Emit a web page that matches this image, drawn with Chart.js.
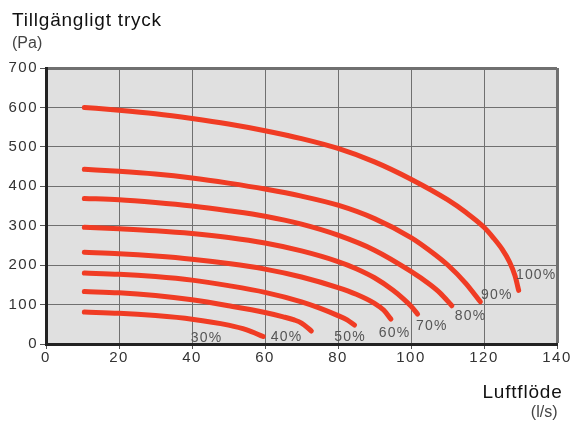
<!DOCTYPE html>
<html>
<head>
<meta charset="utf-8">
<script src="https://cdn.jsdelivr.net/npm/chart.js@4.4.1/dist/chart.umd.min.js"></script>
<style>
  html, body { margin: 0; padding: 0; background: #fff; }
  #wrap { position: relative; width: 572px; height: 421px; }
  canvas { display: block; }
  svg { position: absolute; left: 0; top: 0; pointer-events: none; }
  svg text { font-family: "Liberation Sans", Arial, sans-serif; }
</style>
</head>
<body>
<div id="wrap">
  <canvas id="c" width="572" height="421"></canvas>
  <svg width="572" height="421">
    <text x="12" y="25.7" font-size="19" letter-spacing="0.8" fill="#111">Tillgängligt tryck</text>
    <text x="12" y="48.3" font-size="16" fill="#444">(Pa)</text>
    <text x="562.5" y="397.7" font-size="19" letter-spacing="0.8" fill="#111" text-anchor="end">Luftflöde</text>
    <text x="557.5" y="416.6" font-size="16" fill="#444" text-anchor="end">(l/s)</text>
  </svg>
</div>
<script>
// Tick values
const xTicks = [0, 20, 40, 60, 80, 100, 120, 140];
const yTicks = [0, 100, 200, 300, 400, 500, 600, 700];

// Fan speed curves: airflow (l/s) and available pressure (Pa)
const flow100 = [10.5, 20, 30, 40, 50, 60, 70, 80, 90, 100, 110, 115, 120, 122.5, 125, 127, 128.5, 129.5];
const pres100 = [600, 593, 584, 572, 558, 541, 521, 496, 462, 418, 366, 334, 296, 270, 240, 208, 173, 136];

const flow90 = [10.5, 20, 30, 40, 50, 60, 70, 80, 90, 100, 105, 110, 115, 119];
const pres90 = [443, 438, 431, 421, 408, 393, 375, 352, 318, 270, 238, 201, 154, 107];

const flow80 = [10.5, 20, 30, 40, 50, 60, 70, 80, 90, 100, 105, 108, 111.2];
const pres80 = [369, 366, 359, 350, 338, 324, 304, 276, 238, 184, 152, 129, 97];

const flow70 = [10.5, 20, 30, 40, 50, 60, 70, 80, 85, 90, 95, 98, 100, 101.8];
const pres70 = [296, 292, 287, 280, 270, 256, 236, 209, 191, 168, 137, 114, 96, 76];

const flow60 = [10.5, 20, 30, 40, 50, 60, 70, 80, 85, 90, 92.5, 94.5];
const pres60 = [233, 229, 223, 215, 204, 190, 170, 143, 126, 103, 86, 63];

const flow50 = [10.5, 20, 30, 40, 50, 60, 70, 75, 80, 82.5, 84.5];
const pres50 = [180, 177, 171, 162, 148, 131, 107, 91, 72, 61, 48];

const flow40 = [10.5, 20, 30, 40, 50, 60, 65, 68, 70, 72.7];
const pres40 = [133, 130, 123, 112, 97, 80, 69, 61, 53, 33];

const flow30 = [10.5, 20, 30, 40, 50, 55, 59.5];
const pres30 = [81, 78, 72, 63, 48, 36, 19];

// Curve labels and their anchor positions (data units)
const labelText = ['30%', '40%', '50%', '60%', '70%', '80%', '90%', '100%'];
const labelX = [44.0, 65.9, 83.3, 95.5, 105.7, 116.3, 123.5, 134.3];
const labelY = [4, 6.6, 6.6, 17.7, 36, 61.5, 114.7, 164.5];

const curves = [
  [flow30, pres30], [flow40, pres40], [flow50, pres50], [flow60, pres60],
  [flow70, pres70], [flow80, pres80], [flow90, pres90], [flow100, pres100]
];

const LINE = '#f03c24';
const FONT = '"Liberation Sans", Arial, sans-serif';

const datasets = curves.map(([fx, py], i) => ({
  label: labelText[i],
  data: fx.map((v, k) => ({ x: v, y: py[k] })),
  borderColor: LINE,
  borderWidth: 5,
  borderCapStyle: 'round',
  borderJoinStyle: 'round',
  pointRadius: 0,
  fill: false,
  cubicInterpolationMode: 'monotone'
}));

const bgPlugin = {
  id: 'bg',
  beforeDraw(chart) {
    const { ctx, chartArea: a } = chart;
    ctx.save();
    ctx.fillStyle = '#e0e0e0';
    ctx.fillRect(a.left, a.top, a.right - a.left, a.bottom - a.top);
    ctx.restore();
    ctx.letterSpacing = '1.5px';
  },
  afterDraw(chart) {
    chart.ctx.letterSpacing = '0px';
  }
};

const labelPlugin = {
  id: 'curveLabels',
  afterDatasetsDraw(chart) {
    const { ctx, scales } = chart;
    ctx.save();
    ctx.font = '14px ' + FONT;
    ctx.fillStyle = '#555';
    ctx.letterSpacing = '1.2px';
    ctx.textAlign = 'center';
    ctx.textBaseline = 'alphabetic';
    labelText.forEach((t, i) => {
      ctx.fillText(t, scales.x.getPixelForValue(labelX[i]), scales.y.getPixelForValue(labelY[i]));
    });
    ctx.restore();
  }
};

new Chart(document.getElementById('c'), {
  type: 'line',
  data: { datasets },
  options: {
    responsive: false,
    animation: false,
    events: [],
    layout: { padding: { left: 0, right: 15, top: 68, bottom: 0 } },
    plugins: { legend: { display: false }, tooltip: { enabled: false } },
    scales: {
      x: {
        type: 'linear',
        min: 0, max: 140,
        afterBuildTicks: s => { s.ticks = xTicks.map(v => ({ value: v })); },
        afterFit: s => { s.height = 77; },
        ticks: { color: '#333', font: { family: FONT, size: 15 }, padding: 0, maxRotation: 0, autoSkip: false },
        grid: {
          color: '#707070',
          lineWidth: c => (c.tick && c.tick.value === 140 ? 3 : 1),
          tickLength: 5, tickWidth: 1, tickColor: '#555', drawTicks: true
        },
        border: { display: true, color: '#222', width: 3 }
      },
      y: {
        type: 'linear',
        min: 0, max: 700,
        afterBuildTicks: s => { s.ticks = yTicks.map(v => ({ value: v })); },
        afterFit: s => { s.width = 46; },
        ticks: { color: '#333', font: { family: FONT, size: 15 }, padding: 2, autoSkip: false },
        grid: {
          color: '#707070',
          lineWidth: c => (c.tick && c.tick.value === 700 ? 3 : 1),
          tickLength: 6, tickWidth: 1, tickColor: '#555', drawTicks: true
        },
        border: { display: true, color: '#222', width: 3 }
      }
    }
  },
  plugins: [bgPlugin, labelPlugin]
});
</script>
</body>
</html>
